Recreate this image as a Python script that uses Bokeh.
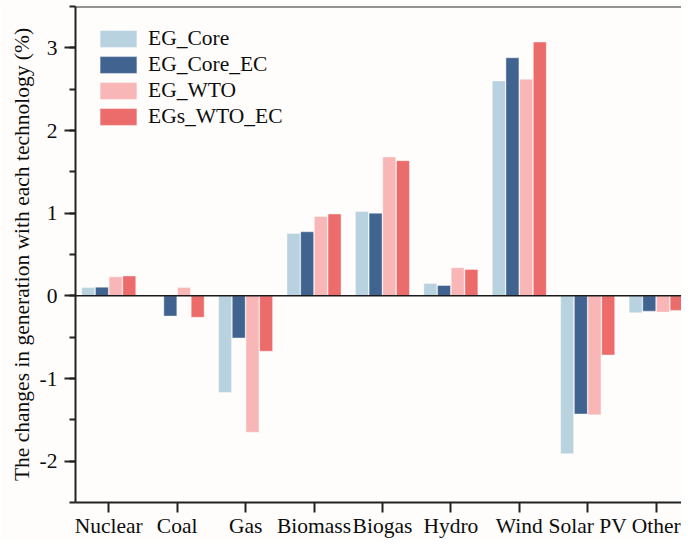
from bokeh.plotting import figure
from bokeh.models import ColumnDataSource, FixedTicker, SingleIntervalTicker, Span, Range1d, Legend, LegendItem
from bokeh.transform import dodge
from bokeh.embed import file_html
from bokeh.resources import INLINE

categories = ["Nuclear", "Coal", "Gas", "Biomass", "Biogas", "Hydro", "Wind", "Solar PV", "Other"]
series_names = ["EG_Core", "EG_Core_EC", "EG_WTO", "EGs_WTO_EC"]
eg_core = [0.10, 0.0, -1.17, 0.755, 1.02, 0.15, 2.60, -1.91, -0.205]
eg_core_ec = [0.105, -0.245, -0.51, 0.775, 1.00, 0.125, 2.88, -1.43, -0.185]
eg_wto = [0.23, 0.10, -1.65, 0.96, 1.68, 0.34, 2.62, -1.44, -0.197]
egs_wto_ec = [0.24, -0.26, -0.67, 0.99, 1.635, 0.32, 3.07, -0.716, -0.176]
y_ticks = [-2, -1, 0, 1, 2, 3]

colors = ["#b8d2df", "#41638f", "#f8b6b6", "#ec6b6b"]
offsets = [-0.3, -0.1, 0.1, 0.3]
FONT = "Liberation Serif"
FS = "21.5px"
BG = "#fffdfc"
INK = "#0d0d0d"

src = ColumnDataSource(dict(idx=list(range(len(categories))),
                            s0=eg_core, s1=eg_core_ec, s2=eg_wto, s3=egs_wto_ec))

p = figure(width=681, height=540, output_backend="svg", toolbar_location=None,
           x_range=Range1d(-0.486, 8.371), y_range=Range1d(-2.5, 3.5),
           min_border_left=75, min_border_right=0, min_border_top=6, min_border_bottom=0)
p.background_fill_color = BG
p.border_fill_color = BG
p.outline_line_color = None
p.grid.visible = False

renderers = []
for i, key in enumerate(["s0", "s1", "s2", "s3"]):
    r = p.vbar(x=dodge("idx", offsets[i], range=p.x_range), top=key, bottom=0, width=0.19,
               source=src, fill_color=colors[i], line_color="white", line_width=0.6, line_alpha=0.7)
    renderers.append(r)

p.add_layout(Span(location=0, dimension="width", line_color="#1a1a1a", line_width=1.5))
p.add_layout(Span(location=3.5, dimension="width", line_color="#2a2a2a", line_width=2))

xa = p.xaxis[0]
xa.ticker = FixedTicker(ticks=list(range(len(categories))), minor_ticks=[])
xa.major_label_overrides = {i: c for i, c in enumerate(categories)}
xa.major_tick_in = 0
xa.major_tick_out = 10
xa.major_label_standoff = 1

ya = p.yaxis[0]
ya.ticker = SingleIntervalTicker(interval=1, num_minor_ticks=2)
ya.major_label_overrides = {t: str(t) for t in y_ticks}
ya.major_tick_in = 0
ya.major_tick_out = 11
ya.minor_tick_in = 0
ya.minor_tick_out = 6
ya.major_label_standoff = 7
ya.axis_label = "The changes in generation with each technology (%)"
ya.axis_label_standoff = 3

for ax in (xa, ya):
    ax.axis_line_width = 2
    ax.axis_line_color = "#222222"
    ax.major_tick_line_width = 2
    ax.major_tick_line_color = "#222222"
    ax.minor_tick_line_width = 2
    ax.minor_tick_line_color = "#222222" if ax is ya else None
    ax.major_label_text_font = FONT
    ax.major_label_text_font_size = FS
    ax.major_label_text_color = INK
    ax.axis_label_text_font = FONT
    ax.axis_label_text_font_size = FS
    ax.axis_label_text_font_style = "normal"
    ax.axis_label_text_color = INK

legend = Legend(items=[LegendItem(label=series_names[i], renderers=[renderers[i]]) for i in range(4)],
                location="top_left")
legend.margin = 20
legend.padding = 11
legend.spacing = 1
legend.glyph_width = 46
legend.glyph_height = 21
legend.label_height = 21
legend.label_standoff = 7
legend.label_text_font = FONT
legend.label_text_font_size = FS
legend.label_text_color = INK
legend.border_line_color = None
legend.background_fill_alpha = 0
p.add_layout(legend)

open("out.html", "w").write(file_html(p, INLINE))
